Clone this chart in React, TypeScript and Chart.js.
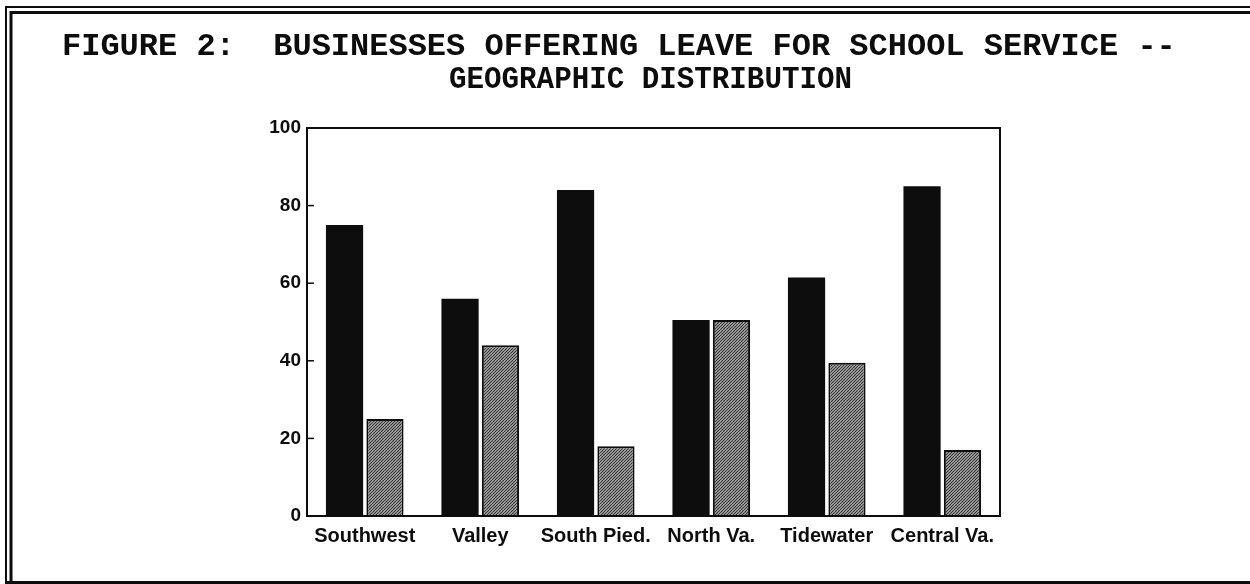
import React, { useEffect, useRef } from "react";
import { Chart, registerables } from "chart.js";

Chart.register(...registerables);

const categories = ["Southwest", "Valley", "South Pied.", "North Va.", "Tidewater", "Central Va."];
const offeringLeave = [75, 56, 84, 50.5, 61.5, 85];
const notOfferingLeave = [25, 44, 18, 50.5, 39.5, 17];
const yTicks = [0, 20, 40, 60, 80, 100];
const titleLine1 = "FIGURE 2:  BUSINESSES OFFERING LEAVE FOR SCHOOL SERVICE --";
const titleLine2 = "GEOGRAPHIC DISTRIBUTION";

const INK = "#0d0d0d";
const SANS = "'Liberation Sans', Arial, Helvetica, sans-serif";
const MONO = "'Liberation Mono', 'Courier New', monospace";

function makeTexture(): CanvasPattern | string {
  const pc = document.createElement("canvas");
  pc.width = 6;
  pc.height = 6;
  const p = pc.getContext("2d");
  if (!p) return "#8f8f8f";
  p.fillStyle = "#c0c0c0";
  p.fillRect(0, 0, 6, 6);
  p.strokeStyle = "#303030";
  p.lineWidth = 1.2;
  for (let k = -6; k <= 6; k += 3) {
    p.beginPath();
    p.moveTo(k, 6);
    p.lineTo(k + 6, 0);
    p.stroke();
  }
  const pat = p.createPattern(pc, "repeat");
  return pat || "#8f8f8f";
}

const decorPlugin = {
  id: "decor",
  beforeDraw(chart: any) {
    const ctx = chart.ctx as CanvasRenderingContext2D;
    ctx.save();
    ctx.fillStyle = "#ffffff";
    ctx.fillRect(0, 0, chart.width, chart.height);
    // page frame
    ctx.strokeStyle = INK;
    ctx.lineWidth = 2;
    ctx.beginPath();
    ctx.moveTo(6, 584);
    ctx.lineTo(6, 7);
    ctx.lineTo(1250, 7);
    ctx.stroke();
    ctx.lineWidth = 3;
    ctx.beginPath();
    ctx.moveTo(11, 584);
    ctx.lineTo(11, 12.5);
    ctx.lineTo(1250, 12.5);
    ctx.stroke();
    ctx.beginPath();
    ctx.moveTo(6, 582.5);
    ctx.lineTo(1250, 582.5);
    ctx.stroke();
    // title
    ctx.fillStyle = INK;
    ctx.font = "bold 32px " + MONO;
    ctx.textAlign = "left";
    ctx.textBaseline = "alphabetic";
    ctx.fillText(titleLine1, 62, 55, 1122);
    ctx.fillText(titleLine2, 449, 88, 403);
    ctx.restore();
  },
  afterDatasetsDraw(chart: any) {
    const ctx = chart.ctx as CanvasRenderingContext2D;
    const { left, right, top, bottom } = chart.chartArea;
    ctx.save();
    ctx.strokeStyle = INK;
    ctx.lineWidth = 2;
    ctx.strokeRect(left, top, right - left, bottom - top);
    const y = chart.scales.y;
    ctx.lineWidth = 1.5;
    yTicks.forEach((v) => {
      if (v === 0 || v === 100) return;
      const py = y.getPixelForValue(v);
      ctx.beginPath();
      ctx.moveTo(left, py);
      ctx.lineTo(left + 7, py);
      ctx.stroke();
    });
    ctx.restore();
  },
};

export default function App() {
  const canvasRef = useRef<HTMLCanvasElement | null>(null);

  useEffect(() => {
    const canvas = canvasRef.current;
    if (!canvas) return;
    const texture = makeTexture();
    const chart = new Chart(canvas, {
      type: "bar",
      data: {
        labels: categories,
        datasets: [
          {
            label: "Offering leave",
            data: offeringLeave,
            backgroundColor: INK,
            borderColor: INK,
            borderWidth: 0,
            categoryPercentage: 0.7,
            barPercentage: 0.92,
          },
          {
            label: "Not offering leave",
            data: notOfferingLeave,
            backgroundColor: texture as any,
            borderColor: INK,
            borderWidth: 2,
            categoryPercentage: 0.7,
            barPercentage: 0.92,
          },
        ],
      },
      options: {
        responsive: false,
        animation: false,
        devicePixelRatio: 1,
        layout: { padding: { left: 0, right: 250, top: 128, bottom: 28 } },
        plugins: {
          legend: { display: false },
          tooltip: { enabled: false },
          title: { display: false },
        },
        scales: {
          x: {
            grid: { display: false, drawTicks: false },
            border: { display: false },
            ticks: {
              color: INK,
              font: { family: SANS, size: 20, weight: "bold" },
              padding: 8,
              maxRotation: 0,
              autoSkip: false,
            },
            afterFit(scale: any) {
              scale.height = 40;
            },
          },
          y: {
            min: 0,
            max: 100,
            afterBuildTicks(scale: any) {
              scale.ticks = yTicks.map((v) => ({ value: v }));
            },
            grid: { display: false, drawTicks: false },
            border: { display: false },
            ticks: {
              color: INK,
              font: { family: SANS, size: 19, weight: "bold" },
              padding: 6,
            },
            afterFit(scale: any) {
              scale.width = 307;
            },
          },
        },
      },
      plugins: [decorPlugin],
    } as any);
    return () => chart.destroy();
  }, []);

  return (
    <div style={{ position: "absolute", left: 0, top: 0, width: 1250, height: 584, background: "#fff" }}>
      <canvas ref={canvasRef} width={1250} height={584} style={{ display: "block", width: 1250, height: 584 }} />
    </div>
  );
}
